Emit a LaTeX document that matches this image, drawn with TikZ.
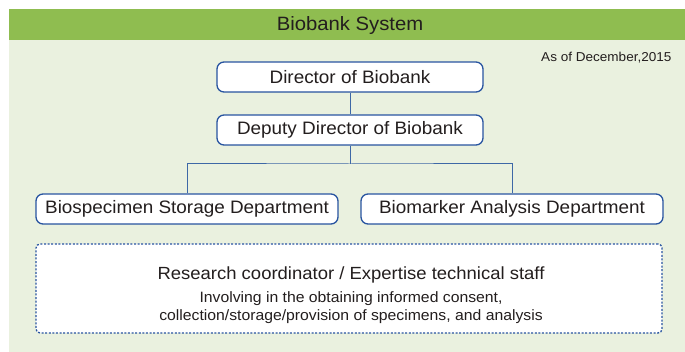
\documentclass[tikz,border=0pt]{standalone}
\usepackage{fontspec}
\setmainfont[FakeStretch=1.05]{Liberation Sans}

\definecolor{headgreen}{RGB}{143,189,80}
\definecolor{panelgreen}{RGB}{234,241,223}
\definecolor{boxblue}{RGB}{40,84,160}
\definecolor{lineblue}{RGB}{62,104,166}
\definecolor{txtgray}{RGB}{35,30,30}

\begin{document}
\begin{tikzpicture}[x=1pt, y=-1pt,
    post/.style={draw=boxblue, line width=1.3pt, fill=white, rounded corners=7pt,
      minimum height=30pt, inner sep=0pt, text=txtgray, font=\fontsize{18}{20}\selectfont},
    staffbox/.style={draw=boxblue, line width=1.3pt, dash pattern=on 2pt off 1.6pt,
      fill=white, rounded corners=4pt, inner sep=0pt},
    link/.style={draw=lineblue, line width=1pt}]
    \useasboundingbox (0,0) rectangle (685,352);
    \fill[white] (0,0) rectangle (685,352);
    \fill[panelgreen] (9,40) rectangle (685,352);
    \fill[headgreen] (9,9) rectangle (685,40);
    \node[anchor=base, inner sep=0pt, text=txtgray, font=\fontsize{19.3}{21}\selectfont] (title) at (350,31) {Biobank System};
    \node[anchor=east, text=txtgray, font=\fontsize{12.9}{14}\selectfont] (date) at (675,58) {As of December,2015};

    \node[post, minimum width=266pt] (director) at (350,77) {Director of Biobank};
    \node[post, minimum width=266pt] (deputy) at (350,130) {Deputy Director of Biobank};
    \node[post, minimum width=302pt] (storage) at (187,209) {Biospecimen Storage Department};
    \node[post, minimum width=302pt] (marker) at (512,209) {Biomarker Analysis Department};
    \coordinate (split) at (350,164);

    \draw[link] (director) -- (deputy);
    \draw[link] (deputy) -- (split);
    \draw[link] (storage.north) |- (split) -| (marker.north);

    \node[staffbox, minimum width=626pt, minimum height=89pt] (staff) at (349,288.5) {};
    \node[anchor=base, inner sep=0pt, text=txtgray, font=\fontsize{17.6}{19}\selectfont] (role) at (351,280) {Research coordinator / Expertise technical staff};
    \node[anchor=base, inner sep=0pt, text=txtgray, font=\fontsize{15}{17}\selectfont] (duty) at (351,303) {Involving in the obtaining informed consent,};
    \node[anchor=base, inner sep=0pt, text=txtgray, font=\fontsize{15}{17}\selectfont] (dutytwo) at (351,321) {collection/storage/provision of specimens, and analysis};
\end{tikzpicture}
\end{document}
